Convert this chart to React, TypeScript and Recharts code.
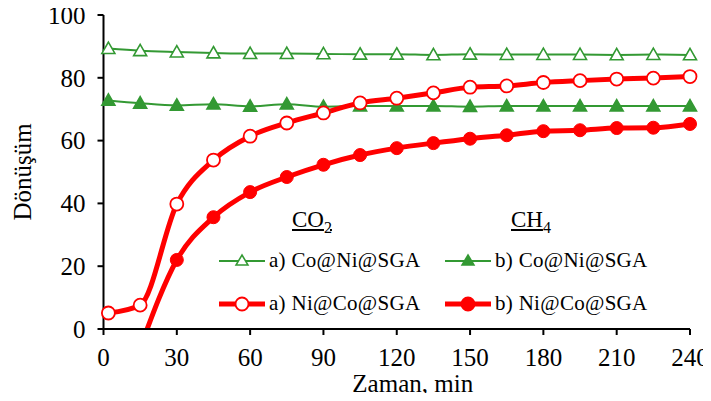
import { LineChart, Line, XAxis, YAxis } from 'recharts';

const GREEN = '#339933';
const RED = '#ff0000';
const FONT = '"Liberation Serif", "Times New Roman", serif';

const xTicks = [0, 30, 60, 90, 120, 150, 180, 210, 240];
const yTicks = [0, 20, 40, 60, 80, 100];

const times = [2, 15, 30, 45, 60, 75, 90, 105, 120, 135, 150, 165, 180, 195, 210, 225, 240];
const co2CoNi = [89.3, 88.6, 88.2, 87.9, 87.7, 87.7, 87.6, 87.5, 87.5, 87.3, 87.5, 87.4, 87.4, 87.4, 87.3, 87.4, 87.3];
const ch4CoNi = [72.8, 71.9, 71.2, 71.6, 70.9, 71.6, 70.8, 71.0, 71.0, 71.0, 70.8, 71.0, 71.0, 71.0, 71.0, 71.0, 71.0];
const co2NiCo = [5.1, 7.6, 39.8, 53.8, 61.4, 65.6, 68.8, 72.0, 73.5, 75.2, 77.0, 77.4, 78.5, 79.1, 79.6, 79.9, 80.4];
const ch4NiCo = [null, -6, 22.0, 35.6, 43.6, 48.4, 52.3, 55.4, 57.6, 59.2, 60.6, 61.7, 63.0, 63.3, 64.0, 64.1, 65.3];

const data = times.map((t, i) => ({
  t,
  co2CoNi: co2CoNi[i],
  ch4CoNi: ch4CoNi[i],
  co2NiCo: co2NiCo[i],
  ch4NiCo: ch4NiCo[i],
}));

function triangle(filled: boolean) {
  return (props: any) => {
    const { cx, cy, index } = props;
    if (cx == null || cy == null) return <g key={index} />;
    const s = 6.5;
    const d = `M${cx},${cy - s}L${cx + s},${cy + s * 0.75}L${cx - s},${cy + s * 0.75}Z`;
    return (
      <path key={index} d={d} fill={filled ? GREEN : '#fff'} stroke={GREEN} strokeWidth={1.6} />
    );
  };
}

function YTitle(props: any) {
  const vb = props.viewBox || {};
  const cy = vb.y + vb.height / 2;
  return (
    <text x={22} y={cy} transform={`rotate(-90, 22, ${cy})`} textAnchor="middle" dominantBaseline="central" fill="#000" fontSize={25} fontFamily={FONT}>
      Dönüşüm
    </text>
  );
}

function LegendSample({ kind }: { kind: 'openTri' | 'fillTri' | 'openCircle' | 'fillCircle' }) {
  const tri = kind === 'openTri' || kind === 'fillTri';
  return (
    <svg width={46} height={16} style={{ display: 'block' }}>
      <line x1={0} y1={8} x2={46} y2={8} stroke={tri ? GREEN : RED} strokeWidth={tri ? 2 : 5} />
      {tri ? (
        <path d="M23,2L29,12L17,12Z" fill={kind === 'fillTri' ? GREEN : '#fff'} stroke={GREEN} strokeWidth={1.5} />
      ) : (
        <circle cx={23} cy={8} r={6.5} fill={kind === 'fillCircle' ? RED : '#fff'} stroke={RED} strokeWidth={1.8} />
      )}
    </svg>
  );
}

function LegendRow({ x, y, kind, text }: { x: number; y: number; kind: any; text: string }) {
  return (
    <div style={{ position: 'absolute', left: x, top: y, display: 'flex', alignItems: 'center', fontFamily: FONT, fontSize: 21, letterSpacing: 0.3, whiteSpace: 'nowrap' }}>
      <LegendSample kind={kind} />
      <span style={{ marginLeft: 4 }}>{text}</span>
    </div>
  );
}

export default function App() {
  return (
    <div style={{ position: 'relative', margin: -8, width: 711, height: 401, background: '#fff' }}>
      <LineChart width={711} height={401} data={data} margin={{ top: 15, right: 21, left: 0, bottom: 0 }}>
        <XAxis
          dataKey="t"
          type="number"
          domain={[0, 240]}
          ticks={xTicks}
          stroke="#000"
          strokeWidth={2}
          tickSize={6}
          tickMargin={13}
          height={72}
          tick={{ fill: '#000', fontSize: 25, fontFamily: FONT }}
          label={{ value: 'Zaman, min', position: 'insideBottom', offset: 9, dx: 16, fill: '#000', fontSize: 25, fontFamily: FONT }}
        />
        <YAxis
          type="number"
          domain={[0, 100]}
          ticks={yTicks}
          allowDataOverflow
          stroke="#000"
          strokeWidth={2}
          tickSize={6}
          tickMargin={12}
          width={103.5}
          tick={{ fill: '#000', fontSize: 25, fontFamily: FONT }}
          label={<YTitle />}
        />
        <Line type="monotone" dataKey="co2CoNi" stroke={GREEN} strokeWidth={2} dot={triangle(false)} isAnimationActive={false} />
        <Line type="monotone" dataKey="ch4CoNi" stroke={GREEN} strokeWidth={2} dot={triangle(true)} isAnimationActive={false} />
        <Line type="monotone" dataKey="co2NiCo" stroke={RED} strokeWidth={5} dot={{ r: 6.5, fill: '#fff', stroke: RED, strokeWidth: 1.8 }} isAnimationActive={false} />
        <Line type="monotone" dataKey="ch4NiCo" stroke={RED} strokeWidth={5} connectNulls dot={{ r: 6.5, fill: RED, stroke: RED, strokeWidth: 1 }} isAnimationActive={false} />
      </LineChart>
      <div style={{ position: 'absolute', left: 292, top: 207, fontFamily: FONT, fontSize: 23, textDecoration: 'underline' }}>
        CO<sub style={{ fontSize: 16 }}>2</sub>
      </div>
      <div style={{ position: 'absolute', left: 511, top: 207, fontFamily: FONT, fontSize: 23, textDecoration: 'underline' }}>
        CH<sub style={{ fontSize: 16 }}>4</sub>
      </div>
      <LegendRow x={219} y={248} kind="openTri" text="a) Co@Ni@SGA" />
      <LegendRow x={445} y={248} kind="fillTri" text="b) Co@Ni@SGA" />
      <LegendRow x={219} y={291} kind="openCircle" text="a) Ni@Co@SGA" />
      <LegendRow x={445} y={291} kind="fillCircle" text="b) Ni@Co@SGA" />
    </div>
  );
}
